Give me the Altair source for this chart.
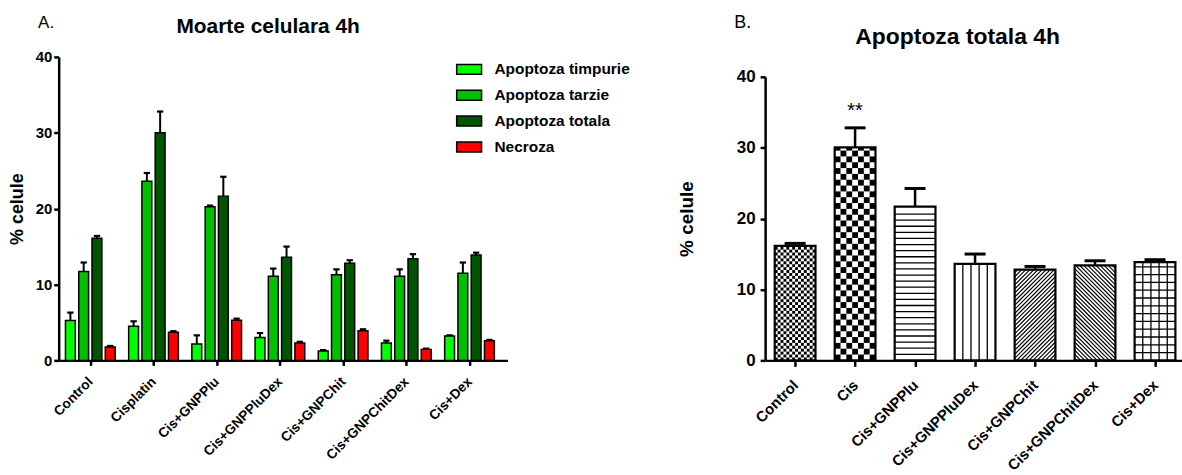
import json
import math
import altair as alt
import pandas as pd

# ---------------- data ----------------
categories_a = ["Control", "Cisplatin", "Cis+GNPPlu", "Cis+GNPPluDex",
                 "Cis+GNPChit", "Cis+GNPChitDex", "Cis+Dex"]
series_names = ["Apoptoza timpurie", "Apoptoza tarzie", "Apoptoza totala", "Necroza"]
series_colors = ["#00FF00", "#00C000", "#005500", "#FF0000"]

apoptoza_timpurie = [5.25, 4.5, 2.15, 3.0, 1.25, 2.3, 3.2]
apoptoza_timpurie_err = [1.05, 0.65, 1.15, 0.6, 0.1, 0.3, 0.1]
apoptoza_tarzie = [11.7, 23.6, 20.25, 11.1, 11.3, 11.1, 11.5]
apoptoza_tarzie_err = [1.2, 1.1, 0.15, 1.0, 0.7, 0.9, 1.4]
apoptoza_totala = [16.1, 30.0, 21.65, 13.6, 12.8, 13.4, 13.9]
apoptoza_totala_err = [0.3, 2.8, 2.55, 1.4, 0.4, 0.6, 0.3]
necroza = [1.75, 3.7, 5.3, 2.3, 3.9, 1.45, 2.6]
necroza_err = [0.15, 0.15, 0.2, 0.15, 0.2, 0.1, 0.1]

categories_b = ["Control", "Cis", "Cis+GNPPlu", "Cis+GNPPluDex",
                "Cis+GNPChit", "Cis+GNPChitDex", "Cis+Dex"]
apoptoza_totala_b = [16.15, 30.05, 21.7, 13.6, 12.8, 13.4, 13.85]
apoptoza_totala_b_err = [0.35, 2.75, 2.55, 1.4, 0.45, 0.65, 0.35]
patterns_b = ["fine_checker", "checker", "hlines", "vlines", "diag_up", "diag_down", "grid"]
significance_b = ["", "**", "", "", "", "", ""]

y_ticks = [0, 10, 20, 30, 40]

# ---------------- style / layout ----------------
FONT = "Liberation Sans"

A_W, A_H = 451, 305
A_X_DOM = [-0.5, 6.6]
A_OFFSETS = [-0.315, -0.105, 0.105, 0.315]
A_HALF = 0.078
A_CAP = 0.05

B_W, B_H = 419, 305
B_X_DOM = [-0.5, 6.45]
B_Y_GAP = 20
B_HALF = 0.34
B_CAP = 0.175
PX_X = B_W / (B_X_DOM[1] - B_X_DOM[0])
PX_Y = (B_H - B_Y_GAP) / 40.0


def axis_common(**kw):
    base = dict(grid=False, domainColor="black", domainWidth=2.5, tickColor="black",
                tickWidth=2.5, labelColor="black", labelFont=FONT, labelFontWeight="bold",
                titleFont=FONT, titleFontWeight="bold", titleColor="black",
                labelOverlap=False, labelFlush=False, labelBound=False)
    base.update(kw)
    return alt.Axis(**base)


# ---------------- panel A ----------------
rows = []
all_vals = [apoptoza_timpurie, apoptoza_tarzie, apoptoza_totala, necroza]
all_errs = [apoptoza_timpurie_err, apoptoza_tarzie_err, apoptoza_totala_err, necroza_err]
for i, cat in enumerate(categories_a):
    for j, name in enumerate(series_names):
        c = i + A_OFFSETS[j]
        v = all_vals[j][i]
        rows.append(dict(cat=cat, serie=name, xc=c, x0=c - A_HALF, x1=c + A_HALF,
                         c0=c - A_CAP, c1=c + A_CAP, v=v, top=v + all_errs[j][i]))
dfa = pd.DataFrame(rows)

xa_scale = alt.Scale(domain=A_X_DOM, nice=False, zero=False)
ya_scale = alt.Scale(domain=[0, 40], nice=False)

xa_axis = axis_common(values=list(range(len(categories_a))),
                      labelExpr=json.dumps(categories_a) + "[datum.value]",
                      title=None, labelAngle=-45, labelAlign="right", labelBaseline="middle",
                      labelFontSize=13.7, tickSize=5, labelPadding=14)
ya_axis = axis_common(values=y_ticks, title="% celule", titleFontSize=18, titlePadding=9,
                      labelFontSize=15, tickSize=5, labelPadding=2)


def xa(field):
    return alt.X(field, scale=xa_scale, axis=xa_axis)


def ya(field):
    return alt.Y(field, scale=ya_scale, axis=ya_axis)


base_a = alt.Chart(dfa)
bars_a = base_a.mark_rect(stroke="black", strokeWidth=1.5).encode(
    x=xa("x0:Q"),
    x2="x1:Q",
    y=ya("v:Q"),
    y2=alt.datum(0),
    fill=alt.Fill("serie:N", scale=alt.Scale(domain=series_names, range=series_colors),
                  legend=alt.Legend(orient="none", legendX=399, legendY=-1, title=None,
                                    symbolType="M-1,-0.4H1V0.4H-1Z", symbolSize=625,
                                    symbolStrokeColor="black", symbolStrokeWidth=1.5,
                                    symbolOpacity=1, labelFont=FONT, labelFontSize=15.5,
                                    labelFontWeight="bold", labelColor="black",
                                    labelOffset=12, rowPadding=4, padding=0)),
)
stems_a = base_a.mark_rule(color="black", strokeWidth=2).encode(
    x=xa("xc:Q"),
    y=ya("v:Q"),
    y2="top:Q",
)
caps_a = base_a.mark_rule(color="black", strokeWidth=2.2).encode(
    x=xa("c0:Q"),
    x2="c1:Q",
    y=ya("top:Q"),
)

panel_a = alt.layer(stems_a, caps_a, bars_a).properties(
    width=A_W, height=A_H,
    title=alt.TitleParams("Moarte celulara 4h", font=FONT, fontSize=21, fontWeight="bold",
                          color="black", anchor="middle", dx=-15, offset=-4,
                          baseline="alphabetic"),
)
wrap_a = alt.hconcat(panel_a, title=alt.TitleParams(
    "A.", font=FONT, fontSize=17, fontWeight="normal", color="black", anchor="start",
    dx=30, dy=28.7, offset=0, baseline="alphabetic"))

# ---------------- panel B ----------------
bars_b = []
cells = []
lines = []
for i, cat in enumerate(categories_b):
    v = apoptoza_totala_b[i]
    e = apoptoza_totala_b_err[i]
    left, right = i - B_HALF, i + B_HALF
    wu = right - left
    bars_b.append(dict(cat=cat, xc=i, x0=left, x1=right, c0=i - B_CAP, c1=i + B_CAP,
                       v=v, top=v + e, sig=significance_b[i]))
    p = patterns_b[i]
    if p in ("fine_checker", "checker"):
        ncol = 14 if p == "fine_checker" else 7
        cw = wu / ncol
        rh = cw * PX_X / PX_Y
        for r in range(math.ceil(v / rh)):
            for c in range(ncol):
                if (r + c) % 2 == 0:
                    cells.append(dict(x0=left + c * cw, x1=left + (c + 1) * cw,
                                      y0=r * rh, y1=min(v, (r + 1) * rh)))
    if p in ("hlines", "grid"):
        step = 0.86 if p == "hlines" else 1.1
        k = 1
        while k * step < v - 0.25:
            lines.append(dict(x0=left, x1=right, y0=k * step, y1=k * step, w=1.3))
            k += 1
    if p in ("vlines", "grid"):
        for k in range(1, 5):
            xx = left + k * wu / 5
            lines.append(dict(x0=xx, x1=xx, y0=0, y1=v, w=1.3))
    if p in ("diag_up", "diag_down"):
        wp, hp, per = wu * PX_X, v * PX_Y, 4.1
        if p == "diag_up":
            c = -wp + per / 2
            while c < hp:
                xa_, xb_ = max(0.0, -c), min(wp, hp - c)
                if xb_ > xa_:
                    lines.append(dict(x0=left + xa_ / PX_X, x1=left + xb_ / PX_X,
                                      y0=(xa_ + c) / PX_Y, y1=(xb_ + c) / PX_Y, w=1.2))
                c += per
        else:
            c = per / 2
            while c < wp + hp:
                xa_, xb_ = max(0.0, c - hp), min(wp, c)
                if xb_ > xa_:
                    lines.append(dict(x0=left + xa_ / PX_X, x1=left + xb_ / PX_X,
                                      y0=(c - xa_) / PX_Y, y1=(c - xb_) / PX_Y, w=1.2))
                c += per

dfb = pd.DataFrame(bars_b)
dfc = pd.DataFrame(cells)
dfl = pd.DataFrame(lines)

xb_scale = alt.Scale(domain=B_X_DOM, nice=False, zero=False)
yb_scale = alt.Scale(domain=[0, 40], nice=False, range=[B_H, B_Y_GAP])

xb_axis = axis_common(values=list(range(len(categories_b))),
                      labelExpr=json.dumps(categories_b) + "[datum.value]",
                      title=None, labelAngle=-45, labelAlign="right", labelBaseline="middle",
                      labelFontSize=15, tickSize=6, labelPadding=16)
yb_axis = axis_common(values=y_ticks, title="% celule", titleFontSize=19, titlePadding=40,
                      labelFontSize=17, tickSize=5, labelPadding=5)


def xb(field):
    return alt.X(field, scale=xb_scale, axis=xb_axis)


def yb(field):
    return alt.Y(field, scale=yb_scale, axis=yb_axis)


fill_b = alt.Chart(dfb).mark_rect(fill="white").encode(
    x=xb("x0:Q"), x2="x1:Q", y=yb("v:Q"), y2=alt.datum(0),
)
cells_b = alt.Chart(dfc).mark_rect(fill="black").encode(
    x=xb("x0:Q"), x2="x1:Q", y=yb("y0:Q"), y2="y1:Q",
)
lines_b = alt.Chart(dfl).mark_rule(color="black").encode(
    x=xb("x0:Q"), x2="x1:Q", y=yb("y0:Q"), y2="y1:Q",
    strokeWidth=alt.StrokeWidth("w:Q", scale=None),
)
outline_b = alt.Chart(dfb).mark_rect(fill="white", fillOpacity=0, stroke="black",
                                     strokeWidth=2.2).encode(
    x=xb("x0:Q"), x2="x1:Q", y=yb("v:Q"), y2=alt.datum(0),
)
stems_b = alt.Chart(dfb).mark_rule(color="black", strokeWidth=2.5).encode(
    x=xb("xc:Q"), y=yb("v:Q"), y2="top:Q",
)
caps_b = alt.Chart(dfb).mark_rule(color="black", strokeWidth=3).encode(
    x=xb("c0:Q"), x2="c1:Q", y=yb("top:Q"),
)
stars_b = alt.Chart(dfb).transform_calculate(ys="datum.top + 1.6").mark_text(
    font=FONT, fontSize=20, color="black", baseline="alphabetic", align="center").encode(
    x=xb("xc:Q"), y=yb("ys:Q"), text="sig:N",
)

panel_b = alt.layer(fill_b, cells_b, lines_b, outline_b, stems_b, caps_b, stars_b).properties(
    width=B_W, height=B_H,
    title=alt.TitleParams("Apoptoza totala 4h", font=FONT, fontSize=23, fontWeight="bold",
                          color="black", anchor="middle", dx=-16, offset=-9.7,
                          baseline="alphabetic"),
)
wrap_b = alt.hconcat(panel_b, title=alt.TitleParams(
    "B.", font=FONT, fontSize=18, fontWeight="normal", color="black", anchor="start",
    dx=57, dy=20.3, offset=0, baseline="alphabetic"))

chart = alt.hconcat(wrap_a, wrap_b, spacing=171).properties(
    padding={"left": 8, "top": 12, "right": 0, "bottom": 0},
    background="white",
).configure_view(strokeWidth=0)

chart.save("out.html", embed_options={"renderer": "svg", "actions": False})
